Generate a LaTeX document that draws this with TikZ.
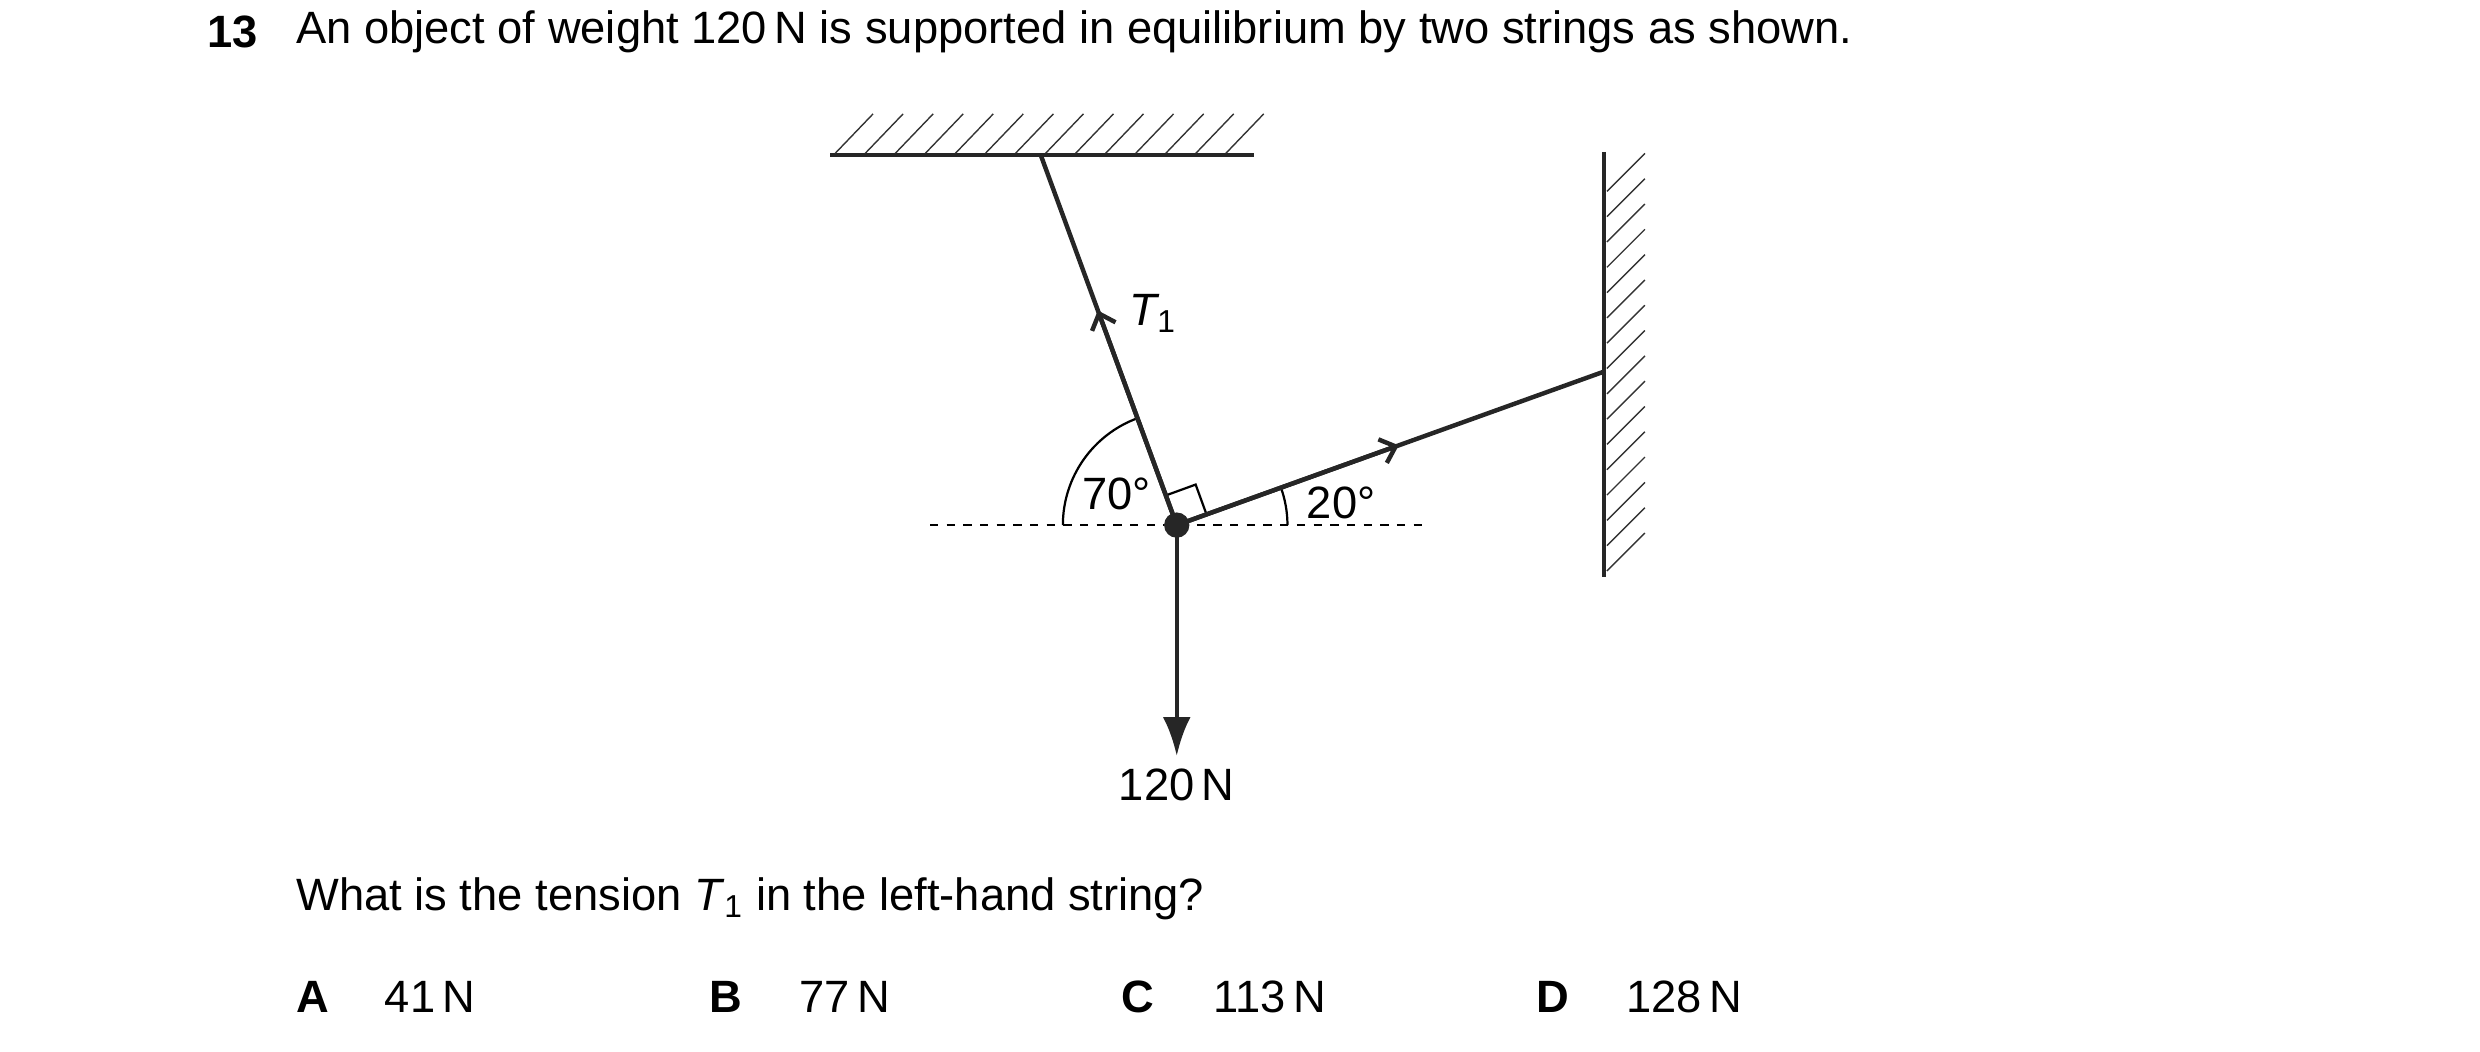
\documentclass[tikz,border=0pt]{standalone}
\usepackage{fontspec}
\setmainfont{Liberation Sans}
\usetikzlibrary{arrows.meta,calc}
\begin{document}
\begin{tikzpicture}[x=0.02cm,y=-0.02cm,
  txt/.style={font=\fontsize{16.3}{19}\selectfont,inner sep=0pt},
  str/.style={line width=1.6pt,draw=black!85},
  hatch/.style={line width=0.5pt,draw=black!80}]
\useasboundingbox (0,0) rectangle (1568,665);
\node[txt,anchor=west,font=\fontsize{16.3}{19}\selectfont\bfseries] (num) at (131,20) {13};
\node[txt,anchor=west] (q) at (187,20) {An object of weight 120\,N is supported in equilibrium by two strings as shown.};
% ceiling
\coordinate (c1) at (525,98); \coordinate (c2) at (793,98);
\draw[str] (c1) -- (c2);
\foreach \x in {528,547,...,775} \draw[hatch] (\x,97) -- (\x+24,72);
% wall
\coordinate (w1) at (1014,96); \coordinate (w2) at (1014,365);
\draw[str] (w1) -- (w2);
\foreach \y in {121,137,...,370} \draw[hatch] (1016,\y) -- (1040,\y-24);
% points
\coordinate (O) at (744,332);
\coordinate (A) at (658,98);
\coordinate (B) at (1014,235);
\coordinate (W) at (744,478);
\draw[dashed,line width=0.6pt] (588,332) -- (900,332);
% angles
\draw[line width=0.8pt] (O) ++(-110:72) arc (-110:-180:72);
\draw[line width=0.8pt] (O) ++(0:70) arc (0:-20:70);
\draw[line width=0.8pt] ($(O)+(-110:20)$) -- ++(-20:20) -- ($(O)+(-20:20)$);
\draw[str] (O) -- (A);
\draw[str] (O) -- (B);
\draw[str,-{Straight Barb[length=5pt,width=9pt]}] (O) -- ($(O)!0.58!(A)$);
\draw[str,-{Straight Barb[length=5pt,width=9pt]}] (O) -- ($(O)!0.52!(B)$);
\draw[str,-{Latex[length=14pt,width=10pt]}] (O) -- (W);
\fill[black!85] (O) circle (8);
\node[txt] (t1) at (729,198) {\itshape T\textsubscript{\upshape 1}};
\node[txt] (a70) at (706,312) {70°};
\node[txt] (a20) at (848,318) {20°};
\node[txt] (wl) at (744,496) {120\,N};
\node[txt,anchor=west] (q2) at (187,568) {What is the tension \textit{T}\textsubscript{1} in the left-hand string?};
\foreach \l/\xa/\v/\xb in {A/187/41/243,B/448/77/505,C/709/113/767,D/971/128/1028}{
  \node[txt,anchor=west,font=\fontsize{16.3}{19}\selectfont\bfseries] (o\l) at (\xa,630) {\l};
  \node[txt,anchor=west] (v\l) at (\xb,630) {\v\,N};}
\end{tikzpicture}
\end{document}
